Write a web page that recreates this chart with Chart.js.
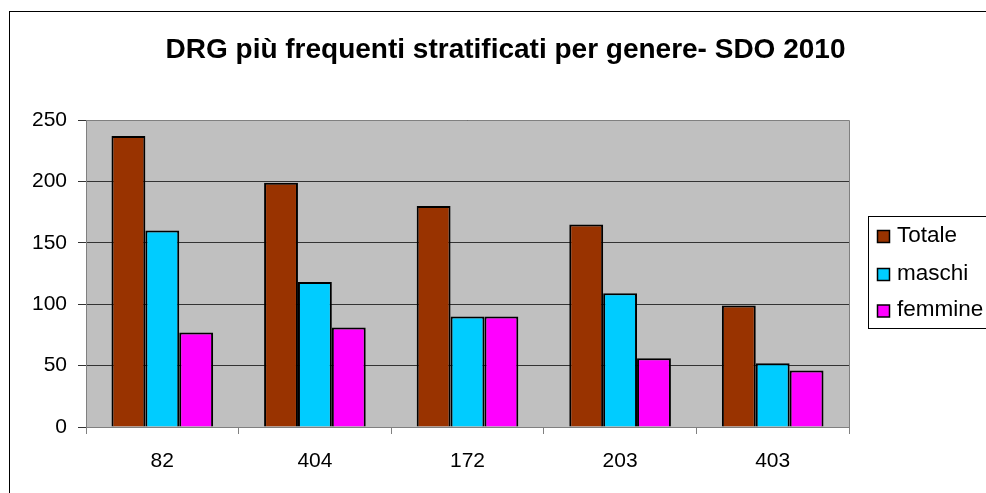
<!DOCTYPE html>
<html>
<head>
<meta charset="utf-8">
<script src="https://cdn.jsdelivr.net/npm/chart.js@4.4.0/dist/chart.umd.min.js"></script>
<style>
  html, body { margin: 0; padding: 0; background: #ffffff; }
  #wrap { width: 986px; height: 493px; }
</style>
</head>
<body>
<div id="wrap"><canvas id="c" width="986" height="493"></canvas></div>
<script>
// DRG codes and discharge counts by gender (SDO 2010)
const categories = ['82', '404', '172', '203', '403'];
const totale  = [237, 199, 180, 165, 99];
const maschi  = [160, 118, 90, 109, 52];
const femmine = [77, 81, 90, 56, 46];
const seriesNames = ['Totale', 'maschi', 'femmine'];
const seriesColors = ['#993300', '#00CCFF', '#FF00FF'];
const yTicks = [0, 50, 100, 150, 200, 250];
const titleText = 'DRG più frequenti stratificati per genere- SDO 2010';

const FONT = "'Liberation Sans', Arial, sans-serif";

// Outer frame, grey plot background and plot border
const framePlugin = {
  id: 'frame',
  beforeDraw(chart) {
    const ctx = chart.ctx;
    const a = chart.chartArea;
    ctx.save();
    ctx.fillStyle = '#ffffff';
    ctx.fillRect(0, 0, chart.width, chart.height);
    ctx.strokeStyle = '#000000';
    ctx.lineWidth = 1;
    ctx.strokeRect(9.5, 11.5, 1200, 1200);
    ctx.fillStyle = '#C0C0C0';
    ctx.fillRect(a.left, a.top, a.right - a.left, a.bottom - a.top);
    ctx.restore();
  },
  afterDraw(chart) {
    const ctx = chart.ctx;
    const a = chart.chartArea;
    ctx.save();
    ctx.strokeStyle = '#808080';
    ctx.lineWidth = 1;
    ctx.beginPath();
    ctx.moveTo(a.left, a.top + 0.5);
    ctx.lineTo(a.right + 0.5, a.top + 0.5);
    ctx.lineTo(a.right + 0.5, a.bottom);
    ctx.stroke();
    ctx.restore();
  }
};

// Boxed legend to the right of the plot
const boxLegendPlugin = {
  id: 'boxLegend',
  afterDraw(chart) {
    const ctx = chart.ctx;
    const x0 = 868.5, y0 = 216.5;
    ctx.save();
    ctx.fillStyle = '#ffffff';
    ctx.fillRect(x0, y0, 200, 112);
    ctx.strokeStyle = '#000000';
    ctx.lineWidth = 1;
    ctx.strokeRect(x0, y0, 200, 112);
    const rowY = [236.5, 274.5, 311];
    ctx.font = '22.5px ' + FONT;
    ctx.textBaseline = 'middle';
    chart.data.datasets.forEach((ds, i) => {
      ctx.fillStyle = ds.backgroundColor;
      ctx.fillRect(877.5, rowY[i] - 6, 12, 12);
      ctx.strokeStyle = '#000000';
      ctx.lineWidth = 1.5;
      ctx.strokeRect(877.5, rowY[i] - 6, 12, 12);
      ctx.fillStyle = '#000000';
      ctx.fillText(ds.label, 897, rowY[i] - 1);
    });
    ctx.restore();
  }
};

const datasets = [totale, maschi, femmine].map((vals, i) => ({
  label: seriesNames[i],
  data: vals,
  backgroundColor: seriesColors[i],
  borderColor: '#000000',
  borderWidth: 2,
  categoryPercentage: 0.666,
  barPercentage: 1.0
}));

new Chart(document.getElementById('c'), {
  type: 'bar',
  data: { labels: categories, datasets },
  options: {
    responsive: false,
    animation: false,
    devicePixelRatio: 1,
    layout: { padding: { left: 25, right: 0, top: 0, bottom: 0 } },
    plugins: {
      legend: { display: false },
      tooltip: { enabled: false },
      title: {
        display: true,
        text: titleText,
        color: '#000000',
        font: { family: FONT, size: 28, weight: 'bold', lineHeight: 1.2 },
        padding: { top: 33, bottom: 53.4 }
      }
    },
    scales: {
      x: {
        offset: true,
        grid: {
          offset: true,
          drawOnChartArea: false,
          drawTicks: true,
          tickLength: 7,
          color: '#808080'
        },
        border: { display: true, color: '#808080', width: 1 },
        ticks: {
          color: '#000000',
          font: { family: FONT, size: 21 },
          padding: 15
        },
        afterFit(scale) { scale.height = 66; }
      },
      y: {
        min: 0,
        max: 250,
        afterBuildTicks(scale) { scale.ticks = yTicks.map(v => ({ value: v })); },
        grid: {
          color: '#333333',
          drawTicks: true,
          tickLength: 8
        },
        border: { display: true, color: '#808080', width: 1 },
        ticks: {
          color: '#000000',
          font: { family: FONT, size: 21 },
          padding: 11
        },
        afterFit(scale) { scale.width = 61; }
      },
      side: {
        position: 'right',
        display: true,
        grid: { display: false },
        border: { display: false },
        ticks: { display: false },
        afterFit(scale) { scale.width = 137; }
      }
    }
  },
  plugins: [framePlugin, boxLegendPlugin]
});
</script>
</body>
</html>
